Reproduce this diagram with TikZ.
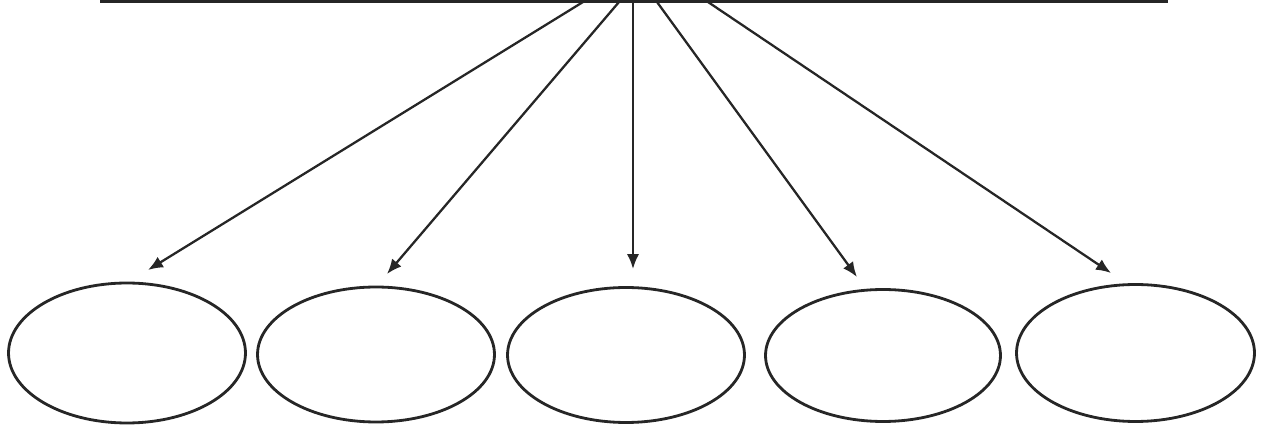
\documentclass[tikz,border=0pt]{standalone}
\usetikzlibrary{shapes.geometric,arrows.meta}
\begin{document}
\begin{tikzpicture}[x=0.02cm,y=-0.02cm,
  oval/.style={draw=black!85,line width=1.6pt,ellipse,inner sep=0pt},
  conn/.style={draw=black!85,line width=1.3pt,-{Latex[length=8.5pt,width=7pt]}},
  bar/.style={draw=black!85,line width=2pt}]
\useasboundingbox (0,0) rectangle (1262,425);
% top bar
\coordinate (L) at (100,1);
\coordinate (R) at (1168,1);
\draw[bar] (L) -- (R);
% ellipses
\node[oval,minimum width=4.74cm,minimum height=2.80cm] (e1) at (127,353) {};
\node[oval,minimum width=4.74cm,minimum height=2.70cm] (e2) at (376,354.5) {};
\node[oval,minimum width=4.74cm,minimum height=2.70cm] (e3) at (626,355) {};
\node[oval,minimum width=4.70cm,minimum height=2.64cm] (e4) at (883,355.5) {};
\node[oval,minimum width=4.76cm,minimum height=2.74cm] (e5) at (1135.5,353) {};
% connector start points
\coordinate (s1) at (583,2);
\coordinate (s2) at (619,2);
\coordinate (s3) at (633,2);
\coordinate (s4) at (657,2);
\coordinate (s5) at (708,2);
% arrow tips
\coordinate (t1) at (148,270);
\coordinate (t2) at (387,274);
\coordinate (t3) at (633,269);
\coordinate (t4) at (857,277);
\coordinate (t5) at (1111,273);
\draw[conn] (s1) -- (t1);
\draw[conn] (s2) -- (t2);
\draw[conn] (s3) -- (t3);
\draw[conn] (s4) -- (t4);
\draw[conn] (s5) -- (t5);
\end{tikzpicture}
\end{document}
